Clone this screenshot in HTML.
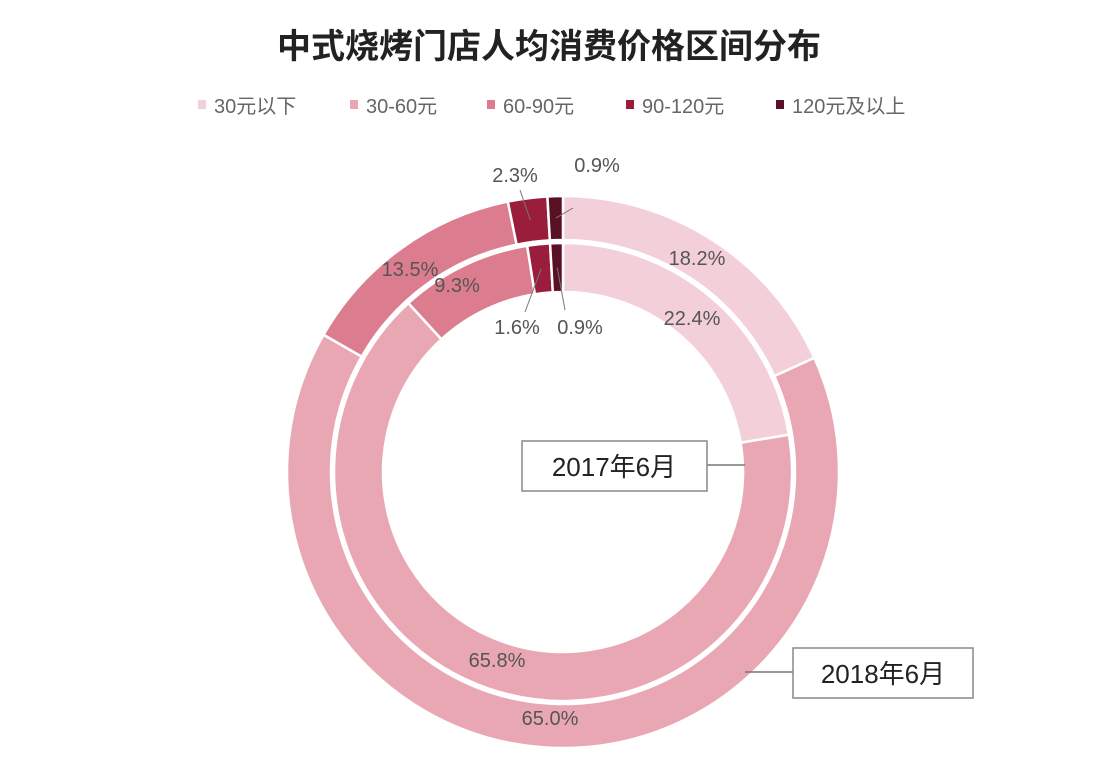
<!DOCTYPE html>
<html><head><meta charset="utf-8"><style>
body{margin:0;background:#fff;}
svg{display:block;font-family:"Liberation Sans","Noto Sans CJK SC",sans-serif;}
</style></head><body>
<svg id="c" width="1098" height="774">
<text x="549" y="58" text-anchor="middle" font-size="34" font-weight="bold" fill="#222">中式烧烤门店人均消费价格区间分布</text>
<g id="legend"></g>
<g id="rings"></g>
<g id="labels"></g>
<g>
<line x1="707" y1="465" x2="745" y2="465" stroke="#777" stroke-width="1.5"/>
<rect x="522" y="441" width="185" height="50" fill="#fff" stroke="#888" stroke-width="1.5"/>
<text x="614" y="476" text-anchor="middle" font-size="26" fill="#222">2017年6月</text>
<line x1="745" y1="672" x2="793" y2="672" stroke="#777" stroke-width="1.5"/>
<rect x="793" y="648" width="180" height="50" fill="#fff" stroke="#888" stroke-width="1.5"/>
<text x="883" y="683" text-anchor="middle" font-size="26" fill="#222">2018年6月</text>
</g>
</svg>
<script>
const categories=["30元以下","30-60元","60-90元","90-120元","120元及以上"];
const values2017=[22.4,65.8,9.3,1.6,0.9];
const values2018=[18.2,65.0,13.5,2.3,0.9];
const colors=["#f3cfda","#e9a7b4","#dc7d8f","#9a1d3b","#5a1126"];
const NS="http://www.w3.org/2000/svg";
const cx=563,cy=472;
function mk(t,a,p){const e=document.createElementNS(NS,t);for(const k in a)e.setAttribute(k,a[k]);p.appendChild(e);return e;}
const legX=[202,354,491,630,780];
const lg=document.getElementById('legend');
categories.forEach((c,i)=>{
 const r=mk('rect',{x:legX[i]-4,y:100,width:8,height:9,fill:colors[i]},lg);
 
 
 const t=mk('text',{x:legX[i]+12,y:113,'font-size':20,fill:'#666'},lg);
 t.textContent=c;
 
 
});
function pt(r,a){return [cx+r*Math.sin(a),cy-r*Math.cos(a)];}
function arc(r0,r1,a0,a1){
 const la=(a1-a0)>Math.PI?1:0;
 const [x0,y0]=pt(r1,a0),[x1,y1]=pt(r1,a1),[x2,y2]=pt(r0,a1),[x3,y3]=pt(r0,a0);
 return `M${x0},${y0}A${r1},${r1} 0 ${la} 1 ${x1},${y1}L${x2},${y2}A${r0},${r0} 0 ${la} 0 ${x3},${y3}Z`;
}
const rg=document.getElementById('rings');
const lb=document.getElementById('labels');
function ring(vals,r0,r1,name,labelPos){
 const tot=vals.reduce((a,b)=>a+b,0);let a=0;
 vals.forEach((v,i)=>{
  const a1=a+v/tot*2*Math.PI;
  const p=mk('path',{d:arc(r0,r1,a,a1),fill:colors[i],stroke:'#fff','stroke-width':2.5},rg);
  
  
  const lp=labelPos[i];
  const t=mk('text',{x:lp[0],y:lp[1],'font-size':20,fill:'#555','text-anchor':'middle'},lb);
  t.textContent=v.toFixed(1)+'%';
  
  
  if(lp[2]){const m=(a+a1)/2;const [mx,my]=pt((r0+r1)/2,m);
   mk('line',{x1:mx,y1:my,x2:lp[2],y2:lp[3],stroke:'#777','stroke-width':1},lb);}
  a=a1;
 });
}
ring(values2018,232,276,'ring-2018',[[697,265],[550,725],[410,276],[515,182,520,190],[597,172,573,208]]);
ring(values2017,180,229,'ring-2017',[[692,325],[497,667],[457,292],[517,334,525,312],[580,334,565,310]]);
</script>
</body></html>
